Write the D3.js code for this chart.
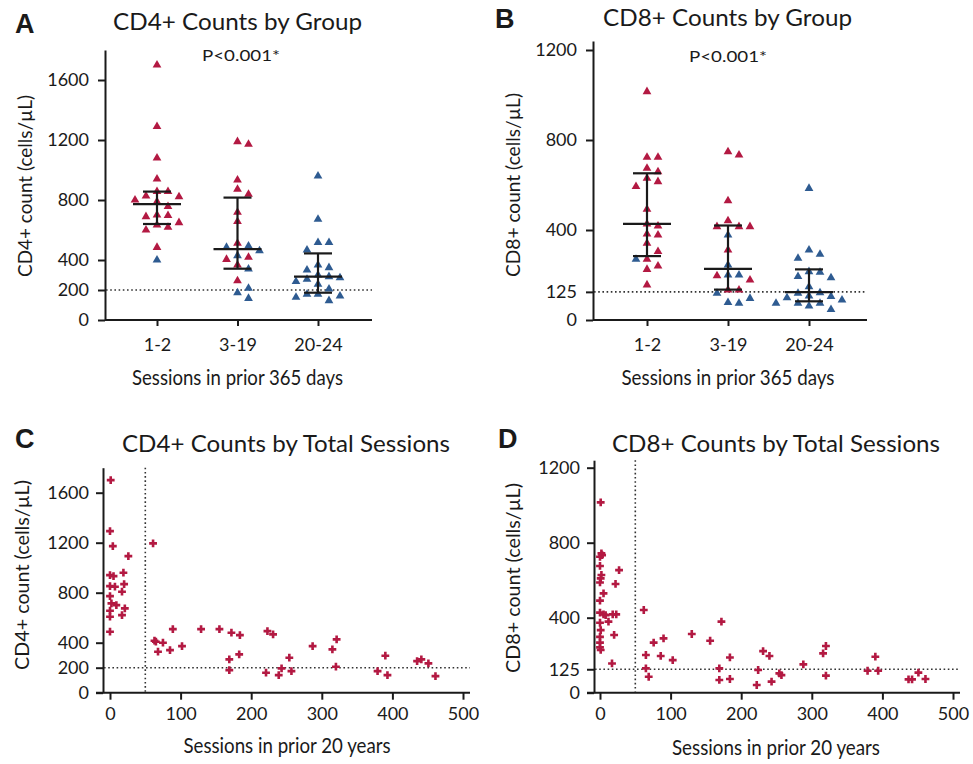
<!DOCTYPE html>
<html>
<head>
<meta charset="utf-8">
<script src="https://cdn.jsdelivr.net/npm/d3@7"></script>
<style>
  body { margin: 0; background: #fff; }
  svg { display: block; }
  text { font-family: Lato, "Open Sans", sans-serif; fill: #1a1a1a; }
</style>
</head>
<body>
<svg id="chart" width="973" height="764"></svg>
<script>
// ---- data ----
var groups = ["1-2", "3-19", "20-24"];

// CD4+ by group (red / blue triangles)
var cd4Red = [
  [1700, 1290, 1080, 940, 856, 856, 822, 827, 789, 800, 756, 700, 689, 696, 633, 649, 600, 618, 484],
  [1189, 1171, 933, 871, 838, 718, 656, 511, 418, 404, 367, 262],
  []
];
var cd4Blue = [
  [400],
  [493, 484, 462, 429, 340, 211, 182, 144],
  [960, 671, 516, 516, 467, 367, 349, 333, 300, 282, 289, 256, 238, 271, 207, 171, 160, 129, 151, 171]
];
var cd4Median = [773, 473, 289];
var cd4Q1 = [640, 342, 182];
var cd4Q3 = [856, 816, 444];

// CD8+ by group
var cd8Red = [
  [1015, 723, 723, 674, 659, 630, 615, 593, 492, 427, 418, 382, 378, 341, 304, 270, 240, 225, 156],
  [748, 733, 530, 441, 415, 415, 415, 311, 197, 178, 133, 133],
  []
];
var cd8Blue = [
  [270],
  [378, 244, 200, 200, 119, 96, 78, 74],
  [585, 311, 292, 274, 212, 215, 193, 188, 148, 121, 119, 107, 104, 99, 89, 74, 74, 74, 62, 47]
];
var cd8Median = [427, 227, 124];
var cd8Q1 = [284, 135, 83];
var cd8Q3 = [652, 420, 225];

// totals vs sessions in prior 20 years
var cd4Sessions = [1, 0, 4, 61, 26, 0, 5, 19, 20, 0, 7, 17, 0, 2, 9, 21, 0, 0, 17, 0,
  63, 65, 75, 68, 85, 89, 102, 129, 155, 172, 184, 169, 169, 183, 223, 231, 221, 239, 243, 254,
  257, 287, 315, 321, 320, 379, 390, 393, 435, 441, 451, 461];
var cd4Totals = [1701, 1293, 1173, 1195, 1093, 941, 933, 960, 869, 853, 848, 808, 773, 715, 701, 675, 656, 608, 621, 488,
  416, 408, 400, 328, 341, 509, 373, 509, 509, 480, 461, 267, 181, 307, 493, 467, 160, 141, 195, 280,
  173, 373, 347, 427, 208, 173, 296, 141, 253, 267, 235, 133];

var cd8Sessions = [1, 2, 3, 0, 0, 27, 2, 1, 0, 22, 5, 0, 0, 5, 8, 18, 23, 12, 0, 1, 20, 0, 0, 0, 1, 17,
  62, 172, 130, 156, 90, 76, 65, 86, 103, 65, 69, 169, 169, 184, 184, 224, 222, 231, 240, 243,
  254, 257, 288, 316, 320, 320, 379, 390, 394, 437, 442, 451, 461];
var cd8Totals = [1015, 743, 734, 725, 676, 654, 628, 610, 588, 580, 530, 491, 427, 418, 414, 418, 418, 379, 373, 334, 308, 298, 267, 242, 228, 156,
  441, 379, 313, 277, 290, 267, 201, 196, 174, 130, 85, 130, 68, 188, 73, 121, 41, 222, 196, 59,
  103, 94, 151, 210, 249, 91, 117, 192, 117, 71, 71, 107, 73];

var cd4Ticks = [0, 200, 400, 800, 1200, 1600];
var cd8Ticks = [0, 125, 400, 800, 1200];
var sessionTicks = [0, 100, 200, 300, 400, 500];
var cd4Cutoff = 200, cd8Cutoff = 125, sessionCutoff = 50;

// ---- drawing ----
var RED = "#b31942", BLUE = "#2e5b91", INK = "#1a1a1a";
var svg = d3.select("#chart");

function styleAxis(g, size) {
  g.attr("font-family", null).attr("font-size", null);
  g.selectAll("path, line").attr("stroke", INK).attr("stroke-width", 2);
  g.selectAll("text").attr("font-size", size).style("fill", INK);
}

function label(x, y, txt, size, len, opts) {
  opts = opts || {};
  var t = svg.append("text")
    .attr("x", x).attr("y", y)
    .attr("text-anchor", opts.anchor || "middle")
    .attr("font-size", size)
    .text(txt);
  if (len) t.attr("textLength", len).attr("lengthAdjust", "spacingAndGlyphs");
  if (opts.bold) t.attr("font-weight", "bold").style("font-family", "'Liberation Sans', Arial, sans-serif");
  return t;
}

function yLabel(x, y, txt, len) {
  svg.append("text")
    .attr("transform", "translate(" + x + "," + y + ") rotate(-90)")
    .attr("text-anchor", "middle")
    .attr("dy", "0.35em")
    .attr("font-size", 20)
    .attr("textLength", len).attr("lengthAdjust", "spacingAndGlyphs")
    .text(txt);
}

// simple beeswarm so the triangles don't sit on top of each other
function swarm(points, y) {
  var placed = [];
  points.slice().sort(function (a, b) { return b.v - a.v; }).forEach(function (p) {
    var py = y(p.v), off = 0;
    for (var k = 0; k < 60; k++) {
      var cands = k === 0 ? [0] : [k, -k];
      var ok = null;
      for (var c = 0; c < cands.length; c++) {
        var free = placed.every(function (q) {
          return Math.abs(q.dx - cands[c]) >= 11 || Math.abs(q.py - py) >= 8.5;
        });
        if (free) { ok = cands[c]; break; }
      }
      if (ok !== null) { off = ok; break; }
    }
    placed.push({ dx: off, py: py, v: p.v, c: p.c });
  });
  return placed;
}

function groupPanel(o) {
  var y = d3.scaleLinear().domain([0, o.yMax]).range([o.yBottom, o.yTop]);
  var x = d3.scalePoint().domain(groups).range(o.catRange);

  svg.append("g")
    .attr("transform", "translate(" + o.axisX + ",0)")
    .call(d3.axisLeft(y).tickValues(o.ticks).tickSize(7).tickSizeOuter(0).tickPadding(9).tickFormat(d3.format("d")))
    .call(styleAxis, 18);

  svg.append("g")
    .attr("transform", "translate(0," + o.yBottom + ")")
    .call(d3.axisBottom(x).tickSize(6).tickSizeOuter(0).tickPadding(12))
    .call(styleAxis, 18)
    .call(function (g) { g.select(".domain").attr("d", "M" + o.axisX + ",0H" + o.axisRight); });

  svg.append("line")
    .attr("x1", o.axisX + 1).attr("x2", o.axisRight)
    .attr("y1", y(o.cutoff)).attr("y2", y(o.cutoff))
    .attr("stroke", "#333").attr("stroke-width", 1.6).attr("stroke-dasharray", "1.6,2.6");

  groups.forEach(function (gname, i) {
    var pts = o.red[i].map(function (v) { return { v: v, c: RED }; })
      .concat(o.blue[i].map(function (v) { return { v: v, c: BLUE }; }));
    var cx = x(gname);
    svg.append("g").selectAll("path").data(swarm(pts, y)).enter().append("path")
      .attr("d", d3.symbol(d3.symbolTriangle, 33))
      .attr("transform", function (d) { return "translate(" + (cx + d.dx) + "," + d.py + ")"; })
      .attr("fill", function (d) { return d.c; });

    var sg = svg.append("g").attr("stroke", INK).attr("stroke-width", 2.2);
    sg.append("line").attr("x1", cx).attr("x2", cx).attr("y1", y(o.q1[i])).attr("y2", y(o.q3[i]));
    sg.append("line").attr("x1", cx - 24).attr("x2", cx + 24).attr("y1", y(o.med[i])).attr("y2", y(o.med[i]));
    [o.q1[i], o.q3[i]].forEach(function (v) {
      sg.append("line").attr("x1", cx - 14).attr("x2", cx + 14).attr("y1", y(v)).attr("y2", y(v));
    });
  });
}

function scatterPanel(o) {
  var y = d3.scaleLinear().domain([0, o.yMax]).range([o.yBottom, o.yTop]);
  var x = d3.scaleLinear().domain([0, 500]).range(o.xRange);

  svg.append("g")
    .attr("transform", "translate(" + o.axisX + ",0)")
    .call(d3.axisLeft(y).tickValues(o.ticks).tickSize(7).tickSizeOuter(0).tickPadding(7).tickFormat(d3.format("d")))
    .call(styleAxis, 18);

  svg.append("g")
    .attr("transform", "translate(0," + o.yBottom + ")")
    .call(d3.axisBottom(x).tickValues(sessionTicks).tickSize(7).tickSizeOuter(0).tickPadding(8))
    .call(styleAxis, 18)
    .call(function (g) { g.select(".domain").attr("d", "M" + (o.axisX - 7) + ",0H" + o.axisRight); });

  svg.append("line")
    .attr("x1", o.axisX + 1).attr("x2", o.axisRight)
    .attr("y1", y(o.cutoff)).attr("y2", y(o.cutoff))
    .attr("stroke", "#333").attr("stroke-width", 1.6).attr("stroke-dasharray", "1.6,2.6");
  svg.append("line")
    .attr("x1", x(sessionCutoff)).attr("x2", x(sessionCutoff))
    .attr("y1", o.yTop).attr("y2", o.yBottom - 1)
    .attr("stroke", "#333").attr("stroke-width", 1.6).attr("stroke-dasharray", "1.6,2.6");

  svg.append("g").selectAll("path").data(o.xs).enter().append("path")
    .attr("d", d3.symbol(d3.symbolCross, 34))
    .attr("transform", function (d, i) { return "translate(" + x(d) + "," + y(o.ys[i]) + ")"; })
    .attr("fill", RED);
}

// Panel A
groupPanel({ yMax: 1800, yBottom: 320, yTop: 50, catRange: [157, 318], axisX: 105, axisRight: 372,
  ticks: cd4Ticks, red: cd4Red, blue: cd4Blue, med: cd4Median, q1: cd4Q1, q3: cd4Q3, cutoff: cd4Cutoff });
label(15, 33, "A", 27, null, { anchor: "start", bold: true });
label(237.5, 30, "CD4+ Counts by Group", 23, 249);
label(241, 61, "P<0.001*", 15, 78);
label(237.5, 385, "Sessions in prior 365 days", 21, 211);
yLabel(25, 186, "CD4+ count (cells/µL)", 182);

// Panel B
groupPanel({ yMax: 1240, yBottom: 320, yTop: 41, catRange: [647, 809], axisX: 593, axisRight: 867,
  ticks: cd8Ticks, red: cd8Red, blue: cd8Blue, med: cd8Median, q1: cd8Q1, q3: cd8Q3, cutoff: cd8Cutoff });
label(495, 28, "B", 27, null, { anchor: "start", bold: true });
label(727.5, 26, "CD8+ Counts by Group", 23, 249);
label(728, 62, "P<0.001*", 15, 78);
label(728, 385, "Sessions in prior 365 days", 21, 213);
yLabel(513, 185, "CD8+ count (cells/µL)", 184);

// Panel C
scatterPanel({ yMax: 1800, yBottom: 692.7, yTop: 467.7, xRange: [110, 463], axisX: 103, axisRight: 470,
  ticks: cd4Ticks, xs: cd4Sessions, ys: cd4Totals, cutoff: cd4Cutoff });
label(15, 448, "C", 27, null, { anchor: "start", bold: true });
label(286, 452, "CD4+ Counts by Total Sessions", 23, 328);
label(287, 753, "Sessions in prior 20 years", 21, 207);
yLabel(22, 575, "CD4+ count (cells/µL)", 190);

// Panel D
scatterPanel({ yMax: 1240, yBottom: 692.7, yTop: 460.2, xRange: [600, 953], axisX: 594, axisRight: 960,
  ticks: cd8Ticks, xs: cd8Sessions, ys: cd8Totals, cutoff: cd8Cutoff });
label(498, 448, "D", 27, null, { anchor: "start", bold: true });
label(776, 452, "CD8+ Counts by Total Sessions", 23, 328);
label(776, 755, "Sessions in prior 20 years", 21, 208);
yLabel(513, 578, "CD8+ count (cells/µL)", 190);
</script>
</body>
</html>
